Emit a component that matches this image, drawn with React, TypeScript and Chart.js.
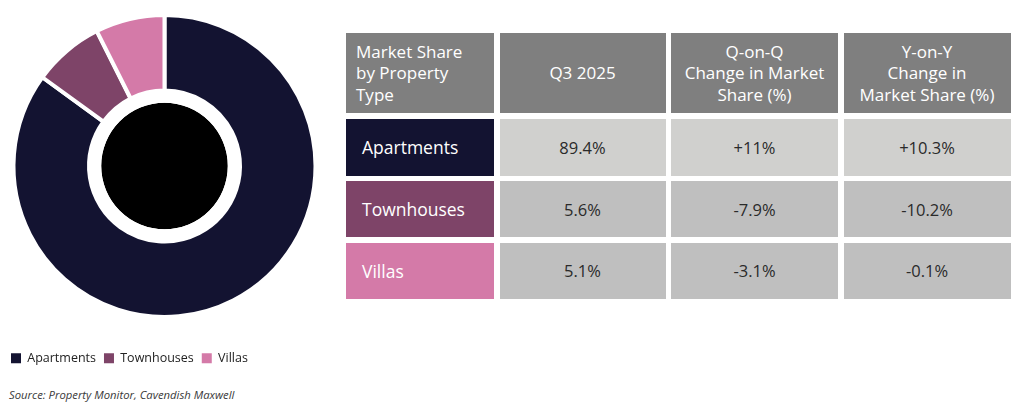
import React, { useEffect, useRef } from "react";
import { Chart, registerables } from "chart.js";

Chart.register(...registerables);

const categories = ["Apartments", "Townhouses", "Villas"];
const ringValues = [85.0, 7.6, 7.4];
const sliceColors = ["#131331", "#7e4468", "#d47aa8"];

const headerLabels = [
  "Market Share\nby Property\nType",
  "Q3 2025",
  "Q-on-Q\nChange in Market\nShare (%)",
  "Y-on-Y\nChange in\nMarket Share (%)",
];
const q3Share = ["89.4%", "5.6%", "5.1%"];
const qoqChange = ["+11%", "-7.9%", "-3.1%"];
const yoyChange = ["+10.3%", "-10.2%", "-0.1%"];
const sourceText = "Source: Property Monitor, Cavendish Maxwell";

const FONT = "'Open Sans', 'Noto Sans', sans-serif";

function Doughnut() {
  const ref = useRef<HTMLCanvasElement | null>(null);
  useEffect(() => {
    if (!ref.current) return;
    const baseGen = (Chart as any).overrides.doughnut.plugins.legend.labels.generateLabels;
    const chart = new Chart(ref.current, {
      type: "doughnut",
      data: {
        labels: categories,
        datasets: [
          {
            data: ringValues,
            backgroundColor: sliceColors,
            borderColor: "#ffffff",
            borderWidth: 4,
            weight: 75.5,
          } as any,
          { data: [1], backgroundColor: ["#ffffff"], borderWidth: 0, weight: 12.2 } as any,
          { data: [1], backgroundColor: ["#000000"], borderWidth: 0, weight: 63.3 } as any,
        ],
      },
      options: {
        animation: false,
        responsive: false,
        maintainAspectRatio: false,
        cutout: 0,
        radius: 151,
        layout: { padding: { top: 17, left: 3, right: 8, bottom: 5.5 } },
        plugins: {
          tooltip: { enabled: false },
          legend: {
            position: "bottom",
            align: "start",
            title: {
              display: true,
              text: "",
              font: { size: 10, lineHeight: 1 },
              padding: { top: 19, bottom: 0 },
            },
            labels: {
              boxWidth: 10,
              boxHeight: 10,
              padding: 8,
              color: "#222222",
              font: { family: FONT, size: 12.5 },
              generateLabels: (c: any) =>
                baseGen(c).map((l: any) => ({ ...l, lineWidth: 0, strokeStyle: "rgba(0,0,0,0)" })),
            },
          },
        },
      } as any,
    });
    return () => chart.destroy();
  }, []);
  return (
    <canvas
      ref={ref}
      width={334}
      height={380}
      style={{ position: "absolute", left: 0, top: 0, width: 334, height: 380 }}
    />
  );
}

export default function App() {
  const rowData = [q3Share, qoqChange, yoyChange];
  const cellBase: React.CSSProperties = {
    display: "flex",
    alignItems: "center",
    boxSizing: "border-box",
  };
  const rowHeights = [57, 56, 56];
  const dataBg = ["#d0d0ce", "#bfbfbf", "#bfbfbf"];
  return (
    <div
      style={{
        position: "absolute",
        left: 0,
        top: 0,
        width: 1024,
        height: 406,
        background: "#ffffff",
        fontFamily: FONT,
        overflow: "hidden",
      }}
    >
      <Doughnut />
      <div
        style={{
          position: "absolute",
          left: 346,
          top: 33,
          display: "grid",
          gridTemplateColumns: "148px 166px 167px 167px",
          gridTemplateRows: `80px ${rowHeights.map((h) => h + "px").join(" ")}`,
          columnGap: 5.5,
          rowGap: 5.5,
        }}
      >
        {headerLabels.map((h, i) => (
          <div
            key={"h" + i}
            style={{
              ...cellBase,
              background: "#7f7f7f",
              color: "#ffffff",
              fontSize: 17,
              lineHeight: "21.5px",
              whiteSpace: "pre-line",
              justifyContent: i === 0 ? "flex-start" : "center",
              textAlign: i === 0 ? "left" : "center",
              paddingLeft: i === 0 ? 10 : 0,
            }}
          >
            {h}
          </div>
        ))}
        {categories.map((cat, r) => (
          <React.Fragment key={cat}>
            <div
              style={{
                ...cellBase,
                background: sliceColors[r],
                color: "#ffffff",
                fontSize: 17.5,
                paddingLeft: 16,
              }}
            >
              {cat}
            </div>
            {rowData.map((col, c) => (
              <div
                key={cat + c}
                style={{
                  ...cellBase,
                  justifyContent: "center",
                  background: dataBg[r],
                  color: "#2a2a2a",
                  fontSize: 16.5,
                }}
              >
                {col[r]}
              </div>
            ))}
          </React.Fragment>
        ))}
      </div>
      <div
        style={{
          position: "absolute",
          left: 9,
          top: 387,
          fontSize: 11.3,
          fontStyle: "italic",
          color: "#3a3a3a",
          lineHeight: "15px",
          whiteSpace: "nowrap",
        }}
      >
        {sourceText}
      </div>
    </div>
  );
}
